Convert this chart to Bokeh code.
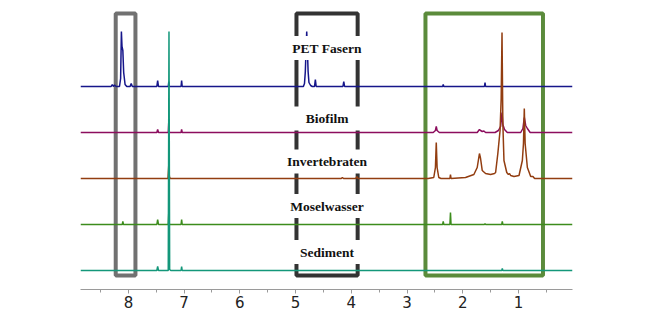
from bokeh.plotting import figure
from bokeh.models import Range1d, FixedTicker, ColumnDataSource
from bokeh.core.properties import value
from bokeh.embed import file_html
from bokeh.resources import INLINE

# ---------------- data ----------------
spectrum_names = ["PET Fasern", "Biofilm", "Invertebraten", "Moselwasser", "Sediment"]
spectrum_colors = ["#16168a", "#8c0d5e", "#923d10", "#3c8c1c", "#13977a"]
spectrum_offsets = [205, 159, 113, 67, 21]

pet_ppm = [8.86, 8.31, 8.29, 8.27, 8.25, 8.22, 8.16, 8.14, 8.126, 8.115, 8.10, 8.085, 8.06, 8.03,
           7.97, 7.95, 7.93, 7.49, 7.475, 7.46, 7.285, 7.275, 7.265, 7.055, 7.045, 7.035,
           4.86, 4.84, 4.825, 4.81, 4.80, 4.79, 4.775, 4.76, 4.73, 4.70, 4.66, 4.645, 4.63,
           4.15, 4.135, 4.12, 2.36, 2.35, 2.34, 1.61, 1.60, 1.59, 0.03]
pet_int = [0, 0, 2, 0, 1.5, 0, 0, 8, 55, 40, 36, 14, 2, 0,
           0, 3, 0, 0, 6, 0, 0, 5, 0, 0, 6, 0,
           0, 3, 15, 40, 55, 40, 15, 4, 1, 0, 0, 7, 0,
           0, 5, 0, 0, 2, 0, 0, 4, 0, 0]

bio_ppm = [8.86, 7.49, 7.475, 7.46, 7.285, 7.275, 7.265, 7.055, 7.045, 7.035,
           2.53, 2.49, 2.475, 2.46, 2.42, 1.74, 1.70, 1.68, 1.65, 1.62, 1.59,
           1.42, 1.36, 1.32, 1.295, 1.28, 1.25, 1.20, 0.96, 0.92, 0.895, 0.87, 0.84, 0.79, 0.03]
bio_int = [0, 0, 3, 0, 0, 12, 0, 0, 3, 0,
           0, 2, 6, 2, 0, 0, 3, 2, 1, 1.5, 0,
           0, 2, 6, 20, 8, 3, 0, 0, 4, 15, 7, 4, 0, 0]

inv_ppm = [8.86, 7.29, 7.275, 7.265, 7.25, 4.18, 4.16, 4.14, 3.92, 3.90, 3.88,
           2.62, 2.52, 2.49, 2.475, 2.46, 2.43, 2.39, 2.23, 2.22, 2.21,
           1.95, 1.80, 1.74, 1.70, 1.68, 1.65, 1.59, 1.50, 1.43, 1.41, 1.37, 1.33, 1.31, 1.295,
           1.28, 1.26, 1.21, 1.18, 1.16, 1.14, 1.08, 0.99, 0.93, 0.91, 0.895, 0.88, 0.84,
           0.78, 0.74, 0.71, 0.03]
inv_int = [0, 0, 14, 2, 0, 0, 1, 0, 0, 2, 0,
           0, 1, 11, 36, 11, 1, 0, 0, 4, 0,
           1, 4, 11, 25, 20, 8, 5, 4, 5, 6, 25, 48, 80, 146,
           55, 18, 6, 4, 5, 3, 2, 3, 18, 35, 70, 35, 11,
           2, 2, 0, 0]

mos_ppm = [8.86, 8.11, 8.10, 8.09, 7.49, 7.475, 7.46, 7.285, 7.275, 7.265, 7.055, 7.045, 7.035,
           2.36, 2.35, 2.34, 2.23, 2.22, 2.21, 1.61, 1.60, 1.59, 1.30, 1.29, 1.28, 0.03]
mos_int = [0, 0, 3, 0, 0, 5, 0, 0, 13, 0, 0, 5, 0,
           0, 3, 0, 0, 12, 0, 0, 1, 0, 0, 3, 0, 0]

sed_ppm = [8.86, 7.49, 7.475, 7.46, 7.285, 7.272, 7.26, 7.24, 7.055, 7.045, 7.035,
           1.30, 1.29, 1.28, 0.03]
sed_int = [0, 0, 4, 0, 0, 239, 1, 0, 0, 4, 0,
           0, 2, 0, 0]

spectra_ppm = [pet_ppm, bio_ppm, inv_ppm, mos_ppm, sed_ppm]
spectra_int = [pet_int, bio_int, inv_int, mos_int, sed_int]

# highlighted regions (ppm)
box_left = [8.228, 4.984, 2.669]
box_right = [7.874, 3.886, 0.560]
box_colors = ["#717171", "#333333", "#5b8b3b"]

x_ticks = [8, 7, 6, 5, 4, 3, 2, 1]
x_minor = [8.5, 7.5, 6.5, 5.5, 4.5, 3.5, 2.5, 1.5, 0.5]

label_x = 4.436
label_y = [243.5, 173, 130, 85.5, 39.5]

# ---------------- figure ----------------
p = figure(frame_width=492, frame_height=289, min_border_left=80, min_border_right=88,
           min_border_top=0, min_border_bottom=29,
           x_range=Range1d(8.86, 0.03), y_range=Range1d(2, 291),
           output_backend="svg", toolbar_location=None)
p.outline_line_color = None
p.xgrid.grid_line_color = None
p.ygrid.grid_line_color = None
p.yaxis.visible = False
p.background_fill_color = "white"
p.border_fill_color = "white"

xa = p.xaxis[0]
xa.ticker = FixedTicker(ticks=x_ticks, minor_ticks=x_minor)
xa.axis_line_color = "#9a9a9a"
xa.axis_line_width = 1
xa.major_tick_line_color = "#9a9a9a"
xa.minor_tick_line_color = "#9a9a9a"
xa.major_tick_in = 0
xa.major_tick_out = 4
xa.minor_tick_in = 0
xa.minor_tick_out = 3
xa.major_label_text_font = "DejaVu Sans"
xa.major_label_text_font_size = "15px"
xa.major_label_text_color = "#222222"
xa.major_label_standoff = 2

# boxes
p.quad(left=box_left, right=box_right, top=[278] * 3, bottom=[16] * 3,
       fill_alpha=0, line_color=box_colors, line_width=4)

# spectra
for ppm, inten, off, col in zip(spectra_ppm, spectra_int, spectrum_offsets, spectrum_colors):
    p.line(x=ppm, y=[v + off for v in inten], line_color=col, line_width=1.5)

# label backgrounds and labels
src = ColumnDataSource(dict(x=[label_x] * len(spectrum_names), y=label_y, t=spectrum_names))
p.rect(x="x", y="y", width=84, height=24, width_units="screen", height_units="screen",
       source=src, fill_color="white", line_color=None)
p.text(x="x", y="y", text="t", source=src, text_font=value("Liberation Serif"),
       text_font_style="bold", text_font_size="13.5px", text_align="center",
       text_baseline="middle", text_color="#111111")

open("out.html", "w").write(file_html(p, INLINE))
